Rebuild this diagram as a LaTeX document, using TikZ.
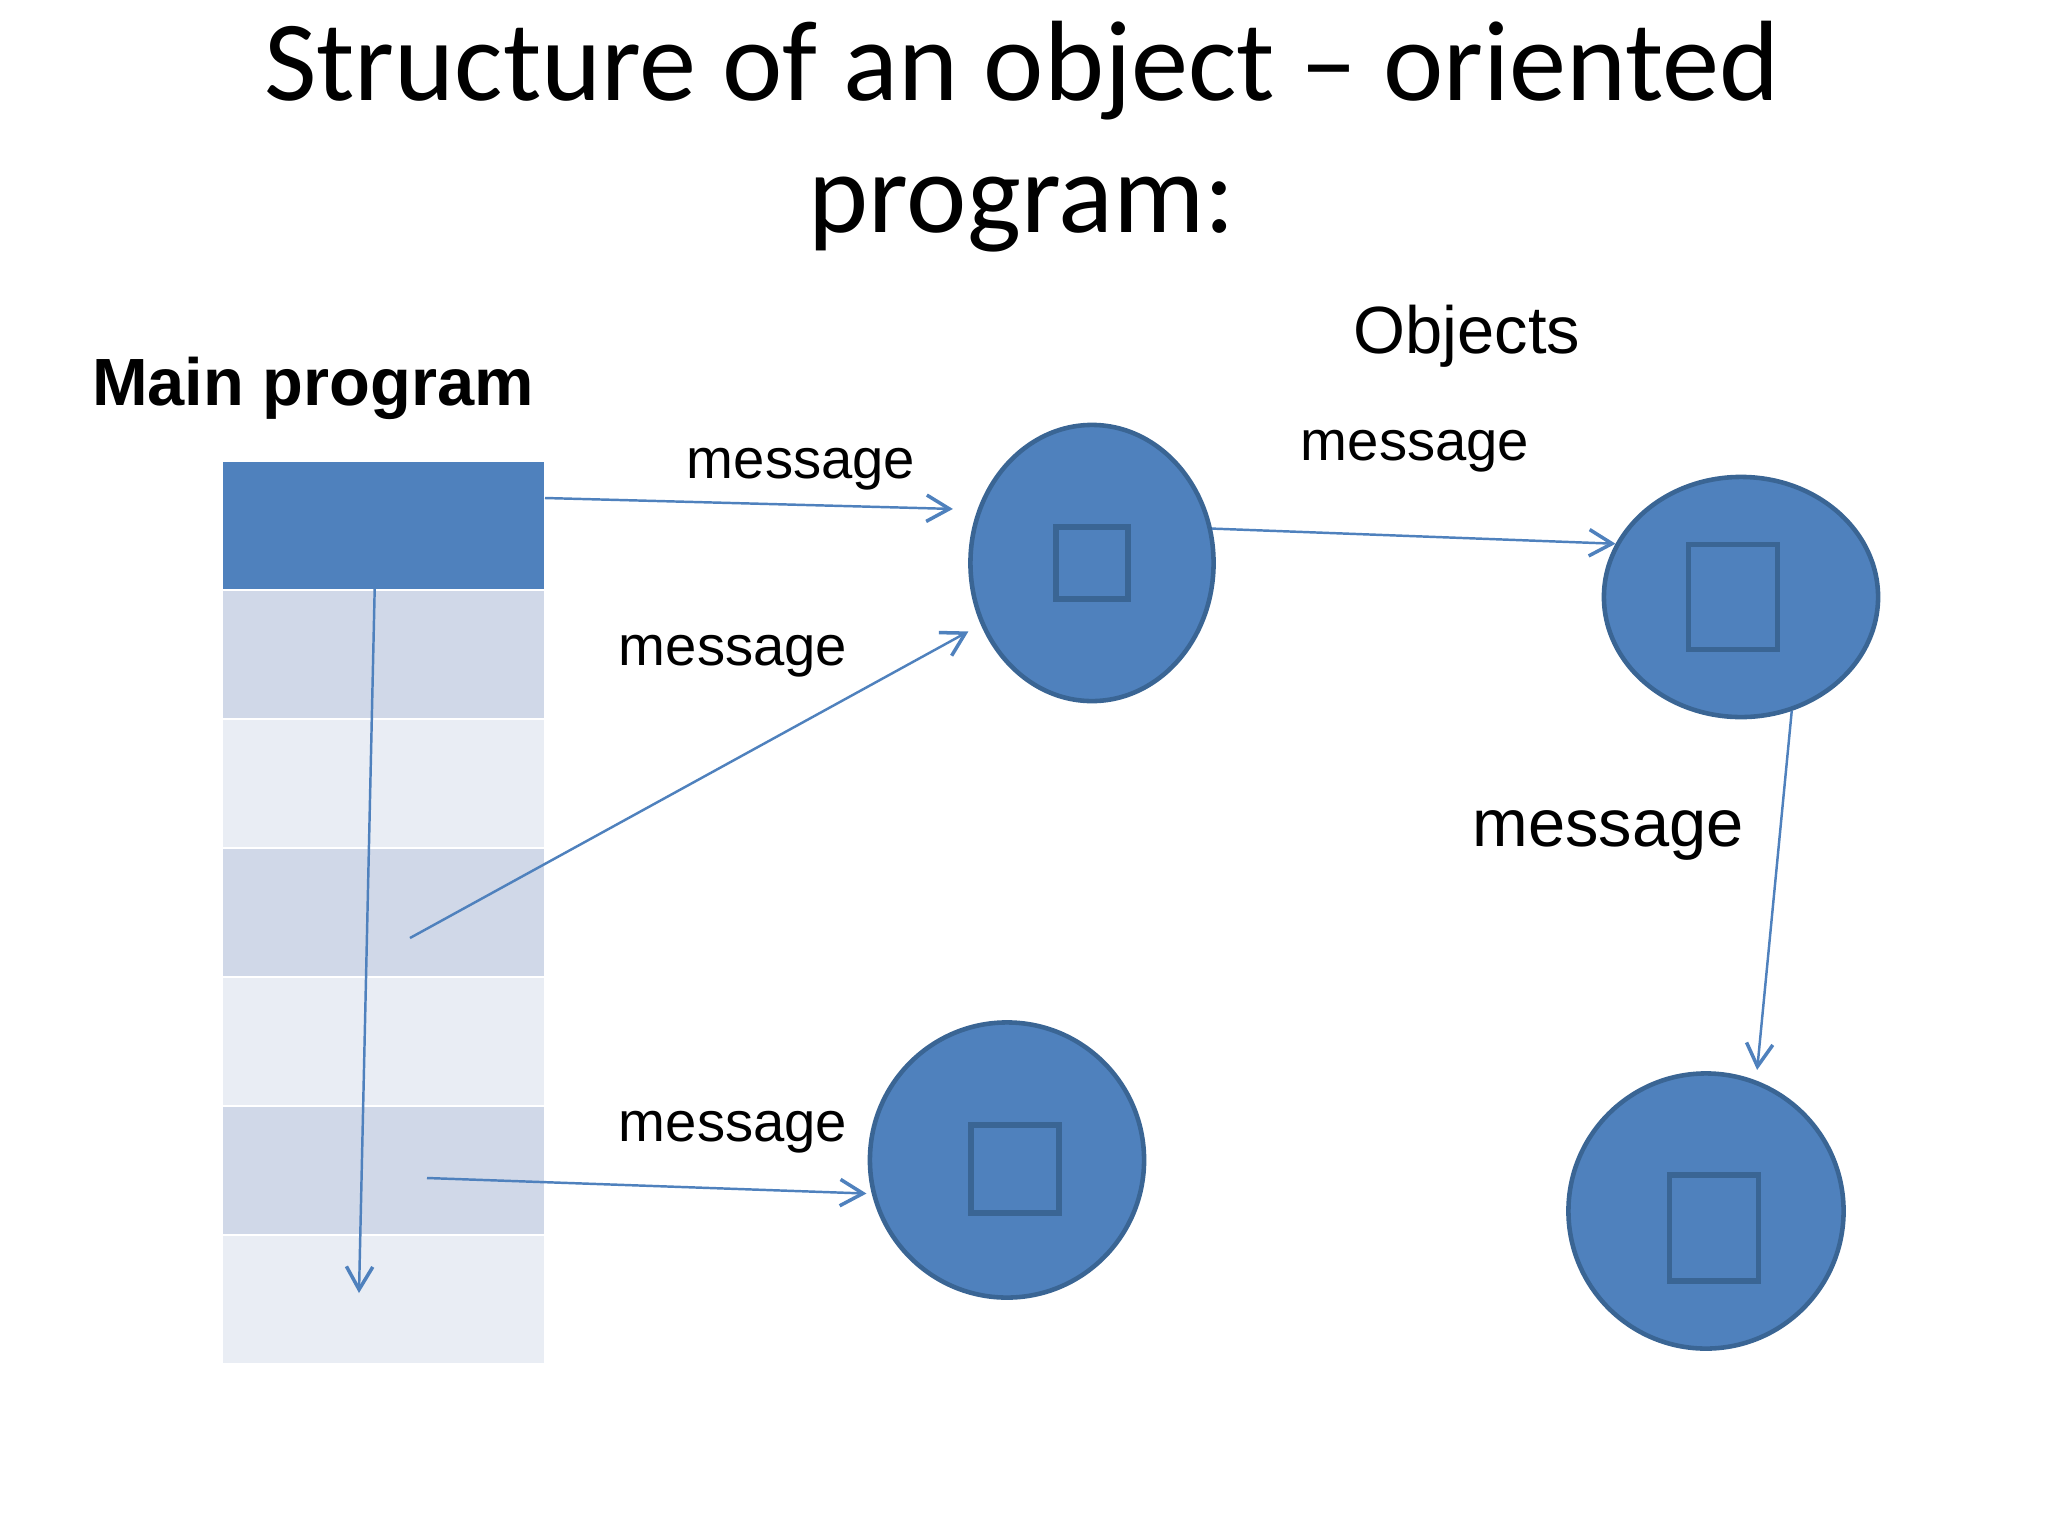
\documentclass[tikz,border=0pt]{standalone}
\usepackage{fontspec}
\setmainfont{Liberation Sans}
\newfontfamily\titlefont{Carlito}
\usetikzlibrary{shapes.geometric,arrows.meta}
\definecolor{objfill}{HTML}{4F81BD}
\definecolor{objline}{HTML}{3A6594}
\definecolor{bandA}{HTML}{D0D8E8}
\definecolor{bandB}{HTML}{E9EDF4}

\begin{document}
\begin{tikzpicture}[x=0.01cm, y=-0.01cm,
    row/.style={rectangle, draw=white, line width=0.6pt, minimum width=3.23cm, minimum height=1.29cm, inner sep=0pt},
    obj/.style={ellipse, fill=objfill, draw=objline, line width=1.3pt, inner sep=0pt},
    inbox/.style={rectangle, draw=objline, line width=1.6pt, inner sep=0pt},
    msg/.style={draw=objfill, line width=0.7pt, -{Straight Barb[length=6.5pt,width=7.5pt,line width=1pt]}},
    lbl/.style={font=\fontsize{16}{19}\selectfont, anchor=base}]
                    \useasboundingbox (0, 0) rectangle (2048, 1536);

                    \node[font=\titlefont\fontsize{32.5}{37}\selectfont, anchor=base] (title1) at (1022, 100) {Structure of an object – oriented};
                    \node[font=\titlefont\fontsize{32.5}{37}\selectfont, anchor=base] (title2) at (1022, 232) {program:};

                    \node[font=\bfseries\fontsize{19}{23}\selectfont, anchor=base] (main) at (313, 405) {Main program};
                    \node[font=\fontsize{19}{23}\selectfont, anchor=base] (objects) at (1467, 353) {Objects};

                    \node[row, fill=objfill] (r1) at (383.5, 525.5) {};
                    \node[row, fill=bandA] (r2) at (383.5, 654.5) {};
                    \node[row, fill=bandB] (r3) at (383.5, 783.5) {};
                    \node[row, fill=bandA] (r4) at (383.5, 912.5) {};
                    \node[row, fill=bandB] (r5) at (383.5, 1041.5) {};
                    \node[row, fill=bandA] (r6) at (383.5, 1170.5) {};
                    \node[row, fill=bandB] (r7) at (383.5, 1299.5) {};

                    \node[obj, minimum width=2.43cm, minimum height=2.76cm] (o1) at (1092, 563) {};
                    \node[obj, minimum width=2.74cm, minimum height=2.40cm] (o2) at (1741, 597) {};
                    \node[obj, minimum width=2.74cm, minimum height=2.75cm] (o3) at (1007, 1160) {};
                    \node[obj, minimum width=2.75cm, minimum height=2.75cm] (o4) at (1706, 1211) {};

                    \node[inbox, minimum width=0.72cm, minimum height=0.72cm] (b1) at (1092, 563) {};
                    \node[inbox, minimum width=0.89cm, minimum height=1.05cm] (b2) at (1733, 597) {};
                    \node[inbox, minimum width=0.88cm, minimum height=0.88cm] (b3) at (1015, 1169) {};
                    \node[inbox, minimum width=0.89cm, minimum height=1.06cm] (b4) at (1714, 1228) {};

                    \coordinate (s1) at (545, 498);
                    \coordinate (s2) at (410, 938);
                    \coordinate (s5) at (427, 1178);
                    \coordinate (s6) at (375, 575);
                    \coordinate (e6) at (359, 1293);

                    \draw[msg, shorten >=7pt] (s1) -- (o1.155);
                    \draw[msg, shorten >=4pt] (s2) -- (o1.209.5);
                    \draw[msg] (o1.16) -- (o2.157);
                    \draw[msg, shorten >=3pt] (o2.294) -- (o4.69);
                    \draw[msg, shorten >=1.5pt] (s5) -- (o3.194);
                    \draw[msg] (s6) -- (e6);

                    \node[lbl] (l1) at (801, 478) {message};
                    \node[lbl] (l2) at (733, 665) {message};
                    \node[lbl] (l3) at (1415, 460) {message};
                    \node[lbl, font=\fontsize{19}{23}\selectfont] (l4) at (1608, 846) {message};
                    \node[lbl] (l5) at (733, 1141) {message};
                \end{tikzpicture}
\end{document}
